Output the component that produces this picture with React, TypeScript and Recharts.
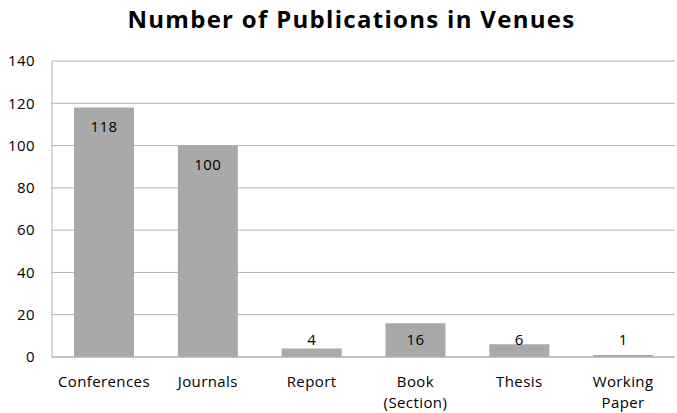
import { BarChart, Bar, XAxis, YAxis, CartesianGrid, LabelList } from "recharts";

const venues = ["Conferences", "Journals", "Report", "Book\n(Section)", "Thesis", "Working\nPaper"];
const publications = [118, 100, 4, 16, 6, 1];
const yTicks = [0, 20, 40, 60, 80, 100, 120, 140];

const data = venues.map((venue, i) => ({ venue, count: publications[i] }));

const FONT = "'Open Sans', 'Liberation Sans', sans-serif";
const GRAY = "#b0b0b0";
const TEXT = { fontSize: 15, fontFamily: FONT, letterSpacing: 0.4 };

// Category names may carry a line break; draw each piece as its own tspan.
function VenueTick(props: any) {
  const { x, y, payload } = props;
  const lines = String(payload.value).split("\n");
  return (
    <text x={x} y={y} textAnchor="middle" fill="#000" style={TEXT}>
      {lines.map((line, i) => (
        <tspan key={i} x={x} dy={i === 0 ? 22 : 21}>
          {line}
        </tspan>
      ))}
    </text>
  );
}

// Value sits inside the top of the bar, but never lower than a fixed
// distance above the baseline (short bars get it just above).
function ValueLabel(props: any) {
  const { x, y, width, height, value } = props;
  const bottom = y + height;
  const cy = Math.min(y + 19, bottom - 17);
  return (
    <text x={x + width / 2} y={cy} dy="0.35em" textAnchor="middle" fill="#000" style={TEXT}>
      {value}
    </text>
  );
}

export default function App() {
  return (
    <div style={{ position: "absolute", left: 0, top: 0, width: 677, height: 413, background: "#fff" }}>
      <div
        style={{
          position: "absolute",
          left: 0,
          width: 677,
          top: 2,
          paddingLeft: 26,
          boxSizing: "border-box",
          textAlign: "center",
          fontFamily: FONT,
          fontWeight: 700,
          fontSize: 24,
          letterSpacing: 1.3,
          color: "#000",
        }}
      >
        Number of Publications in Venues
      </div>
      <BarChart
        width={677}
        height={413}
        data={data}
        barSize={60}
        margin={{ top: 61, right: 2, left: 0, bottom: 0 }}
      >
        <CartesianGrid vertical={false} stroke={GRAY} />
        <XAxis
          dataKey="venue"
          interval={0}
          tickLine={false}
          axisLine={{ stroke: GRAY }}
          tick={<VenueTick />}
          height={56}
        />
        <YAxis
          domain={[0, 140]}
          ticks={yTicks}
          width={52}
          tickLine={false}
          tickSize={0}
          tickMargin={17}
          axisLine={{ stroke: GRAY }}
          tick={{ fill: "#000", ...TEXT }}
        />
        <Bar dataKey="count" fill="#a9a9a9" isAnimationActive={false}>
          <LabelList dataKey="count" content={<ValueLabel />} />
        </Bar>
      </BarChart>
    </div>
  );
}
